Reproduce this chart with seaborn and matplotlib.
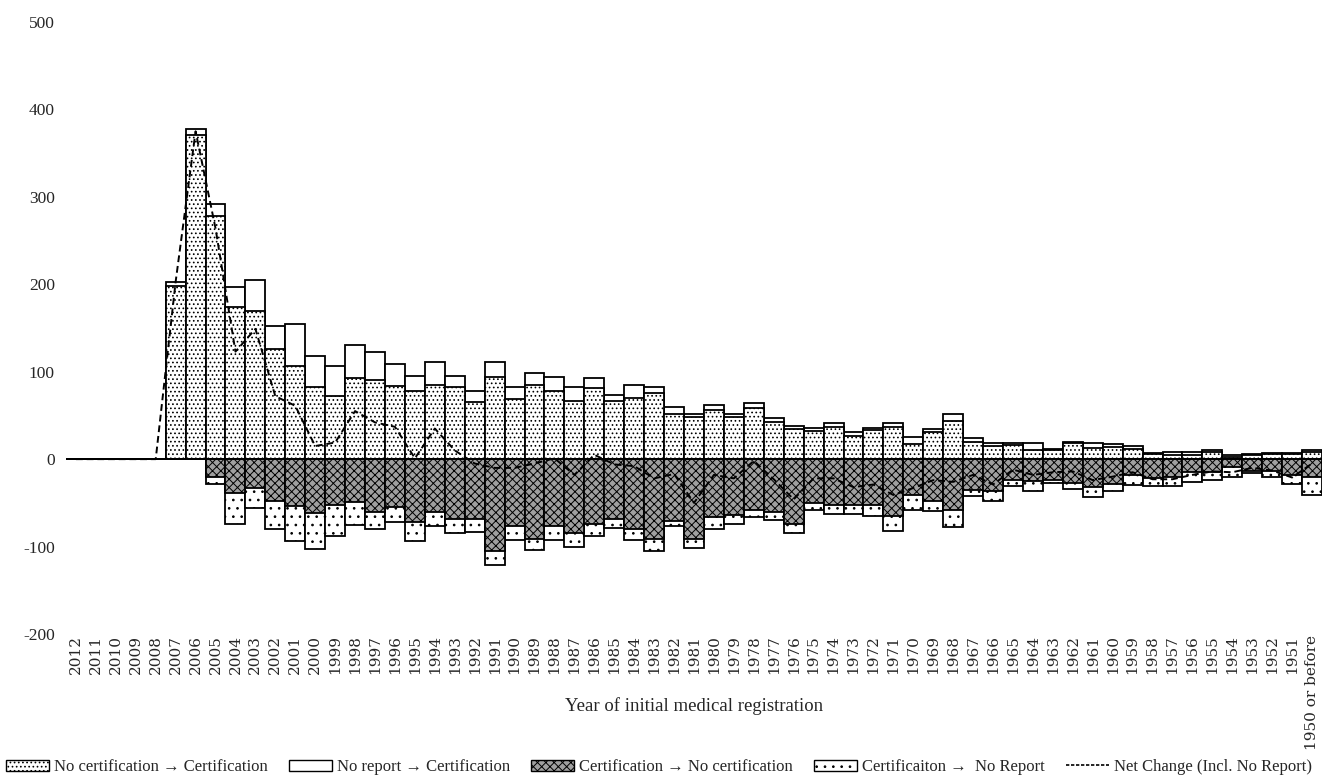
import numpy as np
import matplotlib
matplotlib.use("Agg")
import matplotlib.pyplot as plt
from matplotlib.patches import Patch
from matplotlib.lines import Line2D
import seaborn as sns

years = ["2012", "2011", "2010", "2009", "2008", "2007", "2006", "2005", "2004", "2003",
         "2002", "2001", "2000", "1999", "1998", "1997", "1996", "1995", "1994", "1993",
         "1992", "1991", "1990", "1989", "1988", "1987", "1986", "1985", "1984", "1983",
         "1982", "1981", "1980", "1979", "1978", "1977", "1976", "1975", "1974", "1973",
         "1972", "1971", "1970", "1969", "1968", "1967", "1966", "1965", "1964", "1963",
         "1962", "1961", "1960", "1959", "1958", "1957", "1956", "1955", "1954", "1953",
         "1952", "1951", "1950 or before"]

nocert_to_cert = [0, 0, 0, 0, 0, 198, 371, 278, 174, 170,
                  126, 106, 82, 72, 93, 90, 84, 78, 85, 82,
                  65, 94, 69, 85, 78, 67, 81, 67, 70, 76,
                  52, 48, 56, 48, 58, 43, 34, 32, 37, 26,
                  33, 37, 17, 31, 44, 20, 15, 16, 10, 10,
                  18, 13, 14, 12, 6, 5, 5, 8, 3, 5,
                  6, 6, 8]

noreport_to_cert = [0, 0, 0, 0, 0, 5, 7, 14, 23, 35,
                    26, 49, 36, 35, 37, 32, 25, 17, 26, 13,
                    13, 17, 14, 14, 16, 15, 12, 6, 15, 7,
                    8, 4, 6, 4, 6, 4, 4, 4, 4, 5,
                    3, 4, 8, 4, 8, 4, 4, 3, 8, 2,
                    2, 6, 3, 3, 1, 3, 3, 2, 2, 1,
                    1, 1, 2]

cert_to_nocert = [0, 0, 0, 0, 0, 0, 0, -20, -39, -33,
                  -48, -54, -62, -53, -49, -60, -55, -72, -61, -69,
                  -68, -105, -76, -91, -77, -84, -74, -69, -80, -91,
                  -71, -91, -66, -64, -58, -60, -74, -50, -52, -53,
                  -52, -65, -41, -48, -58, -35, -36, -24, -25, -24,
                  -27, -32, -28, -18, -21, -20, -15, -15, -9, -13,
                  -13, -18, -20]

cert_to_noreport = [0, 0, 0, 0, 0, 0, 0, -8, -35, -23,
                    -32, -40, -41, -35, -26, -20, -17, -22, -15, -16,
                    -15, -16, -17, -13, -16, -16, -14, -10, -13, -14,
                    -6, -11, -14, -10, -8, -10, -10, -8, -11, -10,
                    -13, -17, -17, -11, -20, -7, -12, -7, -11, -3,
                    -7, -11, -9, -12, -10, -11, -11, -9, -11, -3,
                    -7, -11, -21]

net_change = [0, 0, 0, 0, 0, 203, 375, 264, 123, 149,
              72, 61, 15, 19, 55, 42, 37, 1, 35, 10,
              -5, -10, -10, -5, 1, -18, 5, -6, -8, -22,
              -17, -50, -18, -22, -2, -23, -46, -22, -22, -32,
              -29, -41, -33, -24, -26, -18, -29, -12, -18, -15,
              -14, -24, -20, -15, -23, -23, -18, -14, -15, -10,
              -13, -21, -5]

labels = ["No certification \u2192 Certification",
          "No report \u2192 Certification",
          "Certification \u2192 No certification",
          "Certificaiton \u2192  No Report",
          "Net Change (Incl. No Report)"]

sns.set_theme(style="white")
plt.rcParams["font.family"] = ["Liberation Serif", "DejaVu Serif"]
plt.rcParams["hatch.linewidth"] = 0.7
plt.rcParams["hatch.color"] = "black"

W, H = 1322, 778
fig = plt.figure(figsize=(W / 100, H / 100), dpi=100)
ax = fig.add_axes([66 / W, 1 - 634 / H, (W - 66) / W, (634 - 22) / H])

pos_total = np.array(nocert_to_cert) + np.array(noreport_to_cert)
neg_total = np.array(cert_to_nocert) + np.array(cert_to_noreport)

cross_fc = "#a0a0a0"
styles = [
    (pos_total, "white", ""),
    (np.array(nocert_to_cert), "white", "...."),
    (neg_total, "white", ".."),
    (np.array(cert_to_nocert), cross_fc, "xxxx"),
]
for vals, fc, hatch in styles:
    sns.barplot(x=years, y=vals, order=years, color=fc, saturation=1,
                edgecolor="black", linewidth=1.3, width=1.0, hatch=hatch,
                errorbar=None, ax=ax, zorder=2)

sns.lineplot(x=np.arange(len(years)), y=net_change, ax=ax, color="black",
             linestyle=(0, (3.5, 2)), linewidth=1.4, zorder=4)

ax.axhline(0, color="black", linewidth=1.2, zorder=3)
ax.set_xlim(-0.5, len(years) - 0.5)
ax.set_ylim(-200, 500)
ax.set_yticks(np.arange(-200, 501, 100))
ax.set_yticklabels([str(v) for v in range(-200, 501, 100)], fontsize=12.5)
ax.tick_params(axis="y", length=0, pad=8)
ax.tick_params(axis="x", length=0, pad=1)
ax.set_xticks(np.arange(len(years)))
ax.set_xticklabels(years, rotation=90, fontsize=11, family="DejaVu Serif")
ax.set_xlabel("")
ax.set_ylabel("")
for s in ax.spines.values():
    s.set_visible(False)
ax.grid(False)

fig.text(694 / W, 1 - 706 / H, "Year of initial medical registration",
         ha="center", va="center", fontsize=13.5)

handles = [
    Patch(facecolor="white", edgecolor="black", hatch="....", linewidth=1.0),
    Patch(facecolor="white", edgecolor="black", linewidth=1.0),
    Patch(facecolor=cross_fc, edgecolor="black", hatch="xxxx", linewidth=1.0),
    Patch(facecolor="white", edgecolor="black", hatch="..", linewidth=1.0),
    Line2D([0], [0], color="black", linestyle=(0, (2, 1)), linewidth=1.2),
]
fig.legend(handles, labels, loc="center", bbox_to_anchor=(0.4985, 1 - 767 / H),
           ncol=5, frameon=False, fontsize=12, handlelength=2.6, handleheight=0.65,
           handletextpad=0.3, columnspacing=1.25, borderaxespad=0, borderpad=0)

fig.savefig("out.png", dpi=100)
